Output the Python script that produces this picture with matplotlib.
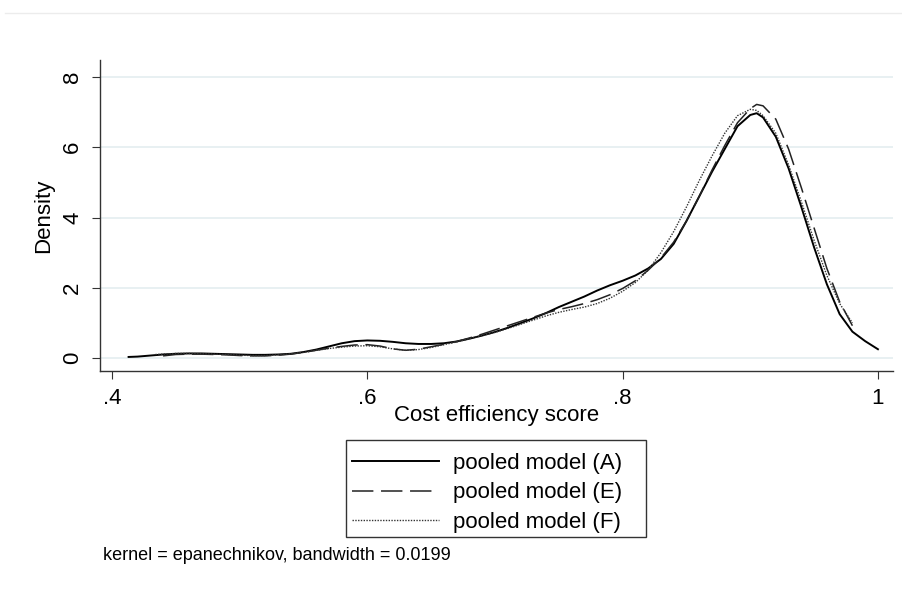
import matplotlib
matplotlib.use("Agg")
import matplotlib.pyplot as plt
from matplotlib.lines import Line2D
from matplotlib.patches import Rectangle

plt.rcParams['font.family'] = ['Liberation Sans', 'DejaVu Sans']

# pooled model (A) - solid
xa = [0.413, 0.42, 0.43, 0.44, 0.45, 0.46, 0.47, 0.48, 0.49, 0.50, 0.51, 0.52, 0.53, 0.54,
      0.55, 0.56, 0.57, 0.58, 0.59, 0.60, 0.61, 0.62, 0.63, 0.64, 0.65, 0.66, 0.67, 0.68,
      0.69, 0.70, 0.71, 0.72, 0.73, 0.74, 0.75, 0.76, 0.77, 0.78, 0.79, 0.80, 0.81, 0.82,
      0.83, 0.84, 0.85, 0.86, 0.87, 0.88, 0.89, 0.90, 0.905, 0.91, 0.92, 0.93, 0.94, 0.95,
      0.96, 0.97, 0.98, 0.99, 1.0]
ya = [0.03, 0.04, 0.07, 0.10, 0.12, 0.13, 0.13, 0.12, 0.11, 0.10, 0.09, 0.09, 0.10, 0.12,
      0.17, 0.24, 0.33, 0.42, 0.48, 0.50, 0.49, 0.46, 0.42, 0.40, 0.40, 0.42, 0.47, 0.55,
      0.64, 0.74, 0.86, 0.99, 1.13, 1.28, 1.45, 1.60, 1.75, 1.92, 2.07, 2.20, 2.35, 2.55,
      2.82, 3.25, 3.90, 4.60, 5.30, 5.95, 6.60, 6.92, 6.97, 6.85, 6.30, 5.40, 4.30, 3.15,
      2.10, 1.25, 0.75, 0.48, 0.25]

# pooled model (E) - dashed
xe = [0.44, 0.45, 0.46, 0.47, 0.48, 0.49, 0.50, 0.51, 0.52, 0.53, 0.54, 0.55, 0.56, 0.57,
      0.58, 0.59, 0.60, 0.61, 0.62, 0.63, 0.64, 0.65, 0.66, 0.67, 0.68, 0.69, 0.70, 0.71,
      0.72, 0.73, 0.74, 0.75, 0.76, 0.77, 0.78, 0.79, 0.80, 0.81, 0.82, 0.83, 0.84, 0.85,
      0.86, 0.87, 0.88, 0.89, 0.90, 0.905, 0.91, 0.92, 0.93, 0.94, 0.95, 0.96, 0.97, 0.98]
ye = [0.06, 0.10, 0.11, 0.11, 0.10, 0.09, 0.07, 0.06, 0.06, 0.08, 0.11, 0.16, 0.22, 0.28,
      0.33, 0.37, 0.38, 0.34, 0.26, 0.22, 0.25, 0.32, 0.39, 0.47, 0.57, 0.68, 0.80, 0.92,
      1.04, 1.16, 1.28, 1.38, 1.46, 1.55, 1.66, 1.80, 1.98, 2.20, 2.50, 2.85, 3.30, 3.90,
      4.60, 5.35, 6.05, 6.70, 7.10, 7.22, 7.18, 6.80, 5.95, 4.85, 3.70, 2.55, 1.60, 0.92]

# pooled model (F) - dotted
xf = [0.434, 0.44, 0.45, 0.46, 0.47, 0.48, 0.49, 0.50, 0.51, 0.52, 0.53, 0.54, 0.55, 0.56,
      0.57, 0.58, 0.59, 0.60, 0.61, 0.62, 0.63, 0.64, 0.65, 0.66, 0.67, 0.68, 0.69, 0.70,
      0.71, 0.72, 0.73, 0.74, 0.75, 0.76, 0.77, 0.78, 0.79, 0.80, 0.81, 0.82, 0.83, 0.84,
      0.85, 0.86, 0.87, 0.88, 0.89, 0.90, 0.905, 0.91, 0.92, 0.93, 0.94, 0.95, 0.96, 0.97, 0.98]
yf = [0.10, 0.11, 0.13, 0.13, 0.12, 0.11, 0.10, 0.08, 0.07, 0.07, 0.09, 0.12, 0.16, 0.22,
      0.27, 0.31, 0.34, 0.35, 0.32, 0.26, 0.22, 0.24, 0.30, 0.38, 0.46, 0.55, 0.64, 0.73,
      0.84, 0.96, 1.08, 1.20, 1.30, 1.38, 1.45, 1.55, 1.70, 1.90, 2.15, 2.50, 3.00, 3.60,
      4.30, 5.05, 5.75, 6.40, 6.90, 7.08, 7.05, 6.90, 6.40, 5.50, 4.45, 3.35, 2.35, 1.55, 1.00]

labels = ["pooled model (A)", "pooled model (E)", "pooled model (F)"]
xticks = [0.4, 0.6, 0.8, 1.0]
xticklabels = [".4", ".6", ".8", "1"]
yticks = [0, 2, 4, 6, 8]

fig = plt.figure(figsize=(9.03, 6.10), dpi=100)
ax = fig.add_axes([100 / 903, 1 - 371 / 610, 793 / 903, 311 / 610])

ax.plot(xa, ya, color="black", lw=1.4, ls="-", label=labels[0])
ax.plot(xe, ye, color="#222222", lw=1.1, ls=(0, (14, 5)), label=labels[1])
ax.plot(xf, yf, color="#333333", lw=1.0, ls=(0, (1, 1)), label=labels[2])

ax.set_xlim(0.3906, 1.0118)
ax.set_ylim(-0.37, 8.485)
ax.set_xticks(xticks)
ax.set_xticklabels(xticklabels)
ax.set_yticks(yticks)
ax.set_yticklabels([str(v) for v in yticks], rotation=90, va="center")
ax.tick_params(labelsize=16, length=6, color="#333333", direction="out", pad=6)
ax.grid(axis="y", color="#e4eef0", lw=1.2)
ax.set_axisbelow(True)
for s in ["top", "right"]:
    ax.spines[s].set_visible(False)
for s in ["left", "bottom"]:
    ax.spines[s].set_color("#333333")
    ax.spines[s].set_linewidth(1.0)

ax.set_xlabel("Cost efficiency score", fontsize=16, labelpad=-3)
ax.set_ylabel("Density", fontsize=16, labelpad=6)

# legend box drawn separately so the padding can match
fig.add_artist(Rectangle((346 / 903, 1 - 537 / 610), 300 / 903, 97 / 610,
                         transform=fig.transFigure, fill=False,
                         edgecolor="#333333", lw=1.0))
fig.legend(loc="upper left", bbox_to_anchor=(352 / 903, 1 - 453 / 610),
           fontsize=16, frameon=False, handlelength=3.9, handletextpad=0.65,
           labelspacing=0.38, borderpad=0, borderaxespad=0)

fig.text(103 / 903, 1 - 556 / 610, "kernel = epanechnikov, bandwidth = 0.0199",
         fontsize=13, va="center", ha="left")

fig.add_artist(Line2D([5 / 903, 1], [1 - 13 / 610, 1 - 13 / 610],
                      transform=fig.transFigure, color="#ececec", lw=1))

fig.savefig("out.png", dpi=100)
